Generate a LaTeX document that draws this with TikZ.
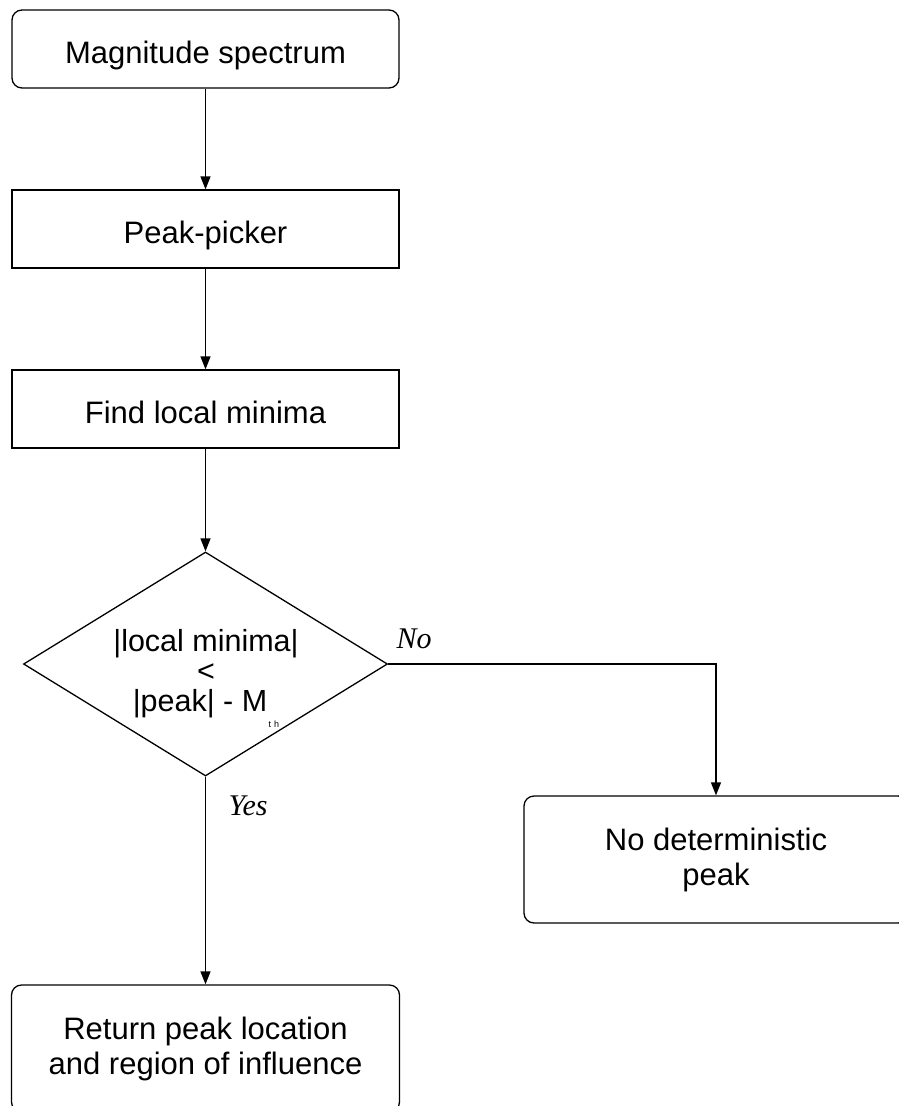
\documentclass[tikz,border=0pt]{standalone}
\usepackage{fontspec}
\setmainfont{Liberation Sans}
\newfontfamily\labelserif{Liberation Serif}
\usetikzlibrary{arrows.meta,shapes.geometric}
\begin{document}
\begin{tikzpicture}[x=1pt,y=-1pt,
  line width=1.3pt,
  every node/.style={font=\fontsize{31}{35}\selectfont},
  boxbase/.style={draw, inner sep=0pt, minimum width=387pt, minimum height=78pt},
  plainbox/.style={boxbase},
  roundbox/.style={boxbase, rounded corners=10pt},
  singleline/.style={text height=28pt, text depth=0pt},
  flow/.style={-{Triangle[length=13pt,width=10pt]}},
  answer/.style={font=\fontsize{30}{30}\selectfont\labelserif\itshape, inner sep=0pt}
]
\useasboundingbox (0,0) rectangle (899,1106);
\clip (0,0) rectangle (899,1106);

% main column
\node[roundbox, singleline] (mag) at (205.5,49) {Magnitude spectrum};
\node[plainbox, singleline] (pick) at (205.5,229) {Peak-picker};
\node[plainbox, singleline] (minima) at (205.5,409) {Find local minima};

% decision
\node[draw, diamond, inner sep=0pt, minimum width=364pt, minimum height=224pt] (cond) at (205.5,664) {};
\node[align=center, inner sep=0pt, font=\fontsize{30.5}{30}\selectfont] (condtext) at (206,674)
  {|local minima|\\ <\\ |peak| - M\smash{\raisebox{-16pt}{\fontsize{9}{9}\selectfont\,t\,\,h}}};

% outcomes
\node[roundbox, align=center, minimum width=384pt, minimum height=127pt] (nodet) at (716,859.5)
  {No deterministic\\ peak};
\node[roundbox, align=center, minimum width=388pt, minimum height=127pt] (ret) at (205.5,1048.5)
  {Return peak location\\ and region of influence};

\draw[flow] (mag) -- (pick);
\draw[flow] (pick) -- (minima);
\draw[flow] (minima) -- (cond.north);
\draw[flow] (cond.south) -- (ret);
\draw[flow] (cond.east) -| (nodet.north);

\node[answer, anchor=base west] (nolbl) at (396,648) {No};
\node[answer, anchor=base west] (yeslbl) at (228,815) {Yes};
\end{tikzpicture}
\end{document}
